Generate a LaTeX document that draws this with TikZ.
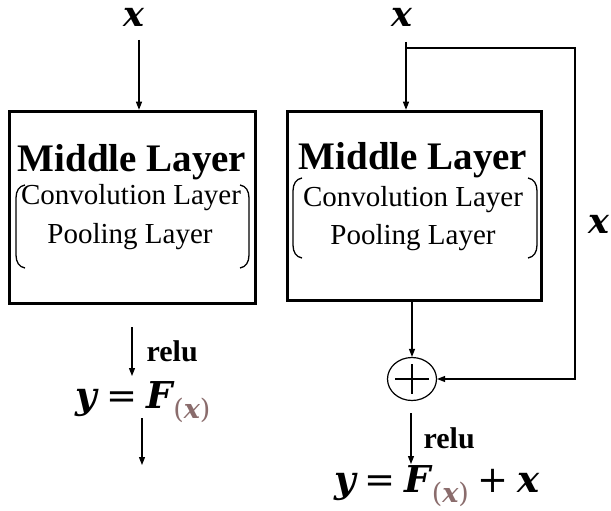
\documentclass[tikz,border=0pt]{standalone}
\usepackage{fontspec}
\setmainfont{Liberation Serif}
\newfontfamily\varfont{DejaVu Serif}
\usepackage{xcolor}
\usetikzlibrary{arrows.meta,shapes.geometric}
\definecolor{subbrown}{HTML}{8A6C6C}
\newcommand{\mv}[1]{{\varfont\bfseries\itshape #1}}
\newcommand{\op}[1]{\hspace{9pt}{\varfont #1}\hspace{9pt}}
\newcommand{\subx}{\hspace{1pt}\raisebox{-10pt}{\fontsize{27}{27}\selectfont\color{subbrown}{\varfont(}\mv{x}{\varfont)}}}
\tikzset{
  layerbox/.style = {draw, line width=3.5pt, inner sep=0pt},
  title/.style    = {font=\fontsize{39}{39}\selectfont\bfseries, inner sep=0pt},
  sub/.style      = {font=\fontsize{29}{29}\selectfont, inner sep=0pt},
  var/.style      = {font=\fontsize{35}{35}\selectfont, inner sep=0pt},
  eq/.style       = {font=\fontsize{37}{37}\selectfont, inner sep=0pt, anchor=base},
  relu/.style     = {font=\fontsize{30}{30}\selectfont\bfseries, inner sep=0pt, anchor=west},
  brace/.style    = {line width=1.3pt},
  arr/.style      = {-{Triangle[length=8pt,width=6pt]}, line width=1.2pt},
  line/.style     = {line width=1.2pt},
  adder/.style    = {ellipse, draw, line width=1.2pt, minimum width=49pt, minimum height=43pt, inner sep=0pt},
}
\begin{document}
\begin{tikzpicture}[x=1pt,y=-1pt]
  \useasboundingbox (0,0) rectangle (611,511);

  % plain network
  \node[var] (xinL) at (134,17) {\mv{x}};
  \node[layerbox, minimum width=246pt, minimum height=192pt] (boxL) at (132.5,207.5) {};
  \node[title] (midL) at (132,162) {Middle Layer};
  \node[sub] (convL) at (131,198) {Convolution Layer};
  \node[sub] (poolL) at (130,237) {Pooling Layer};
  \draw[brace] (25,185) .. controls (19,186) and (16,191) .. (16,198) -- (16,255) .. controls (16,262) and (19,267) .. (25,268);
  \draw[brace] (240,185) .. controls (246,186) and (249,191) .. (249,198) -- (249,255) .. controls (249,262) and (246,267) .. (240,268);
  \coordinate (topL) at (139,40);
  \draw[arr] (topL) -- (topL |- boxL.north);

  \node[eq] (eqL) at (143,408) {\mv{y}\op{=}\mv{F}\subx};
  \coordinate (reluL) at (132,327);
  \draw[arr] (reluL) -- (132,376) node[relu, midway, xshift=14pt] {relu};
  \coordinate (outS) at (142,418);
  \coordinate (outL) at (142,465);
  \draw[arr] (outS) -- (outL);

  % residual network
  \node[var] (xinR) at (402,17) {\mv{x}};
  \node[layerbox, minimum width=254pt, minimum height=189pt] (boxR) at (414.5,206) {};
  \node[title] (midR) at (413,160) {Middle Layer};
  \node[sub] (convR) at (413,200) {Convolution Layer};
  \node[sub] (poolR) at (413,238) {Pooling Layer};
  \draw[brace] (302,178) .. controls (296,179) and (293,184) .. (293,191) -- (293,245) .. controls (293,252) and (296,257) .. (302,258);
  \draw[brace] (528,178) .. controls (534,179) and (537,184) .. (537,191) -- (537,245) .. controls (537,252) and (534,257) .. (528,258);
  \coordinate (topR) at (406,42);
  \coordinate (split) at (406,48);
  \coordinate (skip) at (575,48);
  \draw[arr] (topR) -- (topR |- boxR.north);

  \node[adder] (plus) at (412,379) {};
  \draw[line] (plus.center) +(-17,0) -- +(17,0);
  \draw[line] (plus.center) +(0,-15) -- +(0,15);
  \draw[arr] (plus.north |- boxR.south) -- (plus.north);
  \draw[arr] (split) -- (skip) |- (plus.east);
  \node[var] (xskip) at (599,224) {\mv{x}};

  \node[eq] (eqR) at (437,492) {\mv{y}\op{=}\mv{F}\subx\op{+}\mv{x}};
  \coordinate (reluR) at (411,413);
  \draw[arr] (reluR) -- (411,464) node[relu, midway, xshift=12pt] {relu};
\end{tikzpicture}
\end{document}
